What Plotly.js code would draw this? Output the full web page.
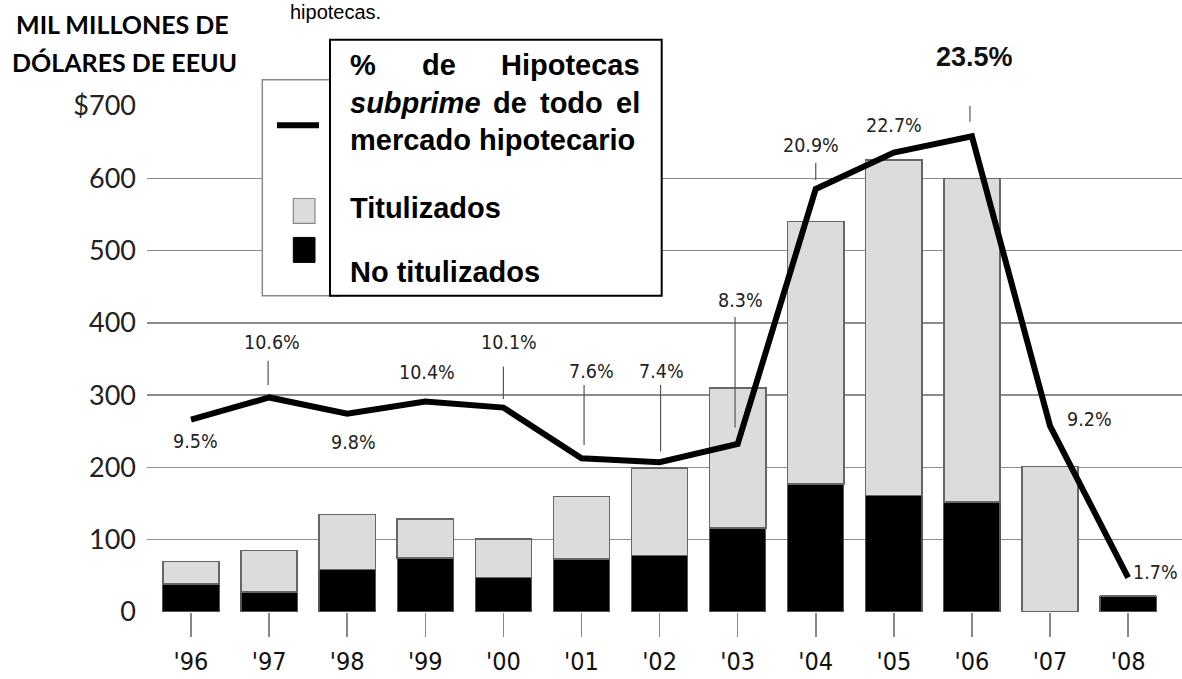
<!DOCTYPE html>
<html>
<head>
<meta charset="utf-8">
<script src="https://cdn.plot.ly/plotly-3.0.1.min.js"></script>
<style>html,body{margin:0;padding:0;background:#fff;}#chart{width:1182px;height:679px;}</style>
</head>
<body>
<div id="chart"></div>
<script>
// ---------- DATA ----------
const years = ["'96","'97","'98","'99","'00","'01","'02","'03","'04","'05","'06","'07","'08"];
const noTitulizados = [39, 28, 59, 75, 48, 73, 78, 116, 177, 161, 152, 0, 22];
const titulizados   = [31, 57, 76, 54, 53, 87, 121, 194, 363, 464, 448, 201, 0];
const subprimePct   = [9.5, 10.6, 9.8, 10.4, 10.1, 7.6, 7.4, 8.3, 20.9, 22.7, 23.5, 9.2, 1.7];
const yTickVals  = [0, 100, 200, 300, 400, 500, 600, 700];
const yTickText  = ["0", "100", "200", "300", "400", "500", "600", "$700"];

// ---------- LAYOUT HELPERS (pixel -> paper) ----------
const W = 1182, H = 679, ML = 147, MR = 0, MT = 105.7, MB = 66.7;
const PW = W - ML - MR, PH = H - MT - MB;
const px = x => (x - ML) / PW;
const py = y => (H - MB - y) / PH;

const xIdx = years.map((_, i) => i);
const narrow = "Liberation Sans Narrow, Arial Narrow, DejaVu Sans Condensed, sans-serif";
const arial = "Liberation Sans, Arial, sans-serif";

// label placement (pixel offsets, style only)
const labelShift = [[4,-22],[3,54.5],[6,-29],[1.5,29],[6,64.7],[10,86.6],[1.5,90.7],[3,144],[-5,43],[0,27.4],[3,79.5],[39,6],[27,5]];
const leaderOff = {1:[-1,12.5,36.8],4:[0,8.7,41],5:[2.6,13.3,73.3],6:[1,10.7,77.4],7:[-2.6,16.4,127],8:[0,9,26],10:[-2,14.5,53]};

const traces = [
  {type:'bar', x:xIdx, y:noTitulizados, name:'No titulizados', width:0.72,
   marker:{color:'#000', line:{color:'#555', width:1.2}}, hoverinfo:'skip'},
  {type:'bar', x:xIdx, y:titulizados, name:'Titulizados', width:0.72,
   marker:{color:'#dcdcdc', line:{color:'#666', width:1.5}}, hoverinfo:'skip'},
  {type:'scatter', mode:'lines', x:xIdx, y:subprimePct, yaxis:'y2', name:'% subprime',
   line:{color:'#000', width:6}, hoverinfo:'skip'}
];

const annotations = [];
const shapes = [];

subprimePct.forEach((v, i) => {
  const s = labelShift[i];
  const bold = i === 10;
  annotations.push({x:xIdx[i], y:v, xref:'x', yref:'y2', text: v.toFixed(1) + '%', showarrow:false,
    xshift:s[0], yshift:s[1], xanchor:'center', yanchor:'middle',
    font: bold ? {family:arial, size:27, color:'#111', weight:'bold'} : {family:narrow, size:19.5, color:'#222'}});
  if (leaderOff[i]) {
    const l = leaderOff[i];
    shapes.push({type:'line', xref:'x', yref:'y2', xsizemode:'pixel', ysizemode:'pixel',
      xanchor:xIdx[i], yanchor:v, x0:l[0], x1:l[0], y0:l[1], y1:l[2],
      line:{color:'#555', width:1.2}, layer:'above'});
  }
});

// legend remnants (original legend, mostly covered)
shapes.push({type:'rect', xref:'paper', yref:'paper', x0:px(262.3), x1:px(340), y0:py(79.3), y1:py(295.7),
  fillcolor:'#fff', line:{color:'#888', width:1.5}, layer:'above'});
shapes.push({type:'line', xref:'paper', yref:'paper', x0:px(277), x1:px(319), y0:py(125), y1:py(125),
  line:{color:'#000', width:6}, layer:'above'});
shapes.push({type:'rect', xref:'paper', yref:'paper', x0:px(293.3), x1:px(315), y0:py(198.3), y1:py(223.3),
  fillcolor:'#dcdcdc', line:{color:'#888', width:1.2}, layer:'above'});
shapes.push({type:'rect', xref:'paper', yref:'paper', x0:px(293.3), x1:px(315), y0:py(237.3), y1:py(262.3),
  fillcolor:'#000', line:{color:'#000', width:1}, layer:'above'});
// white overlay box
shapes.push({type:'rect', xref:'paper', yref:'paper', x0:px(330), x1:px(661.7), y0:py(39.3), y1:py(295.7),
  fillcolor:'#fff', line:{color:'#000', width:2}, layer:'above'});

const boxFont = {family:arial, size:29, color:'#000', weight:'bold'};
function boxText(text, x, y, anchor) {
  annotations.push({xref:'paper', yref:'paper', x:px(x), y:py(y), text:text, showarrow:false,
    xanchor:anchor, yanchor:'middle', font:boxFont, borderpad:0});
}
boxText('%', 349, 65, 'left');
boxText('de', 438.7, 65, 'center');
boxText('Hipotecas', 641, 65, 'right');
boxText('<i>subprime</i>', 349, 103, 'left');
boxText('de', 492.4, 103, 'left');
boxText('todo', 539.1, 103, 'left');
boxText('el', 641, 103, 'right');
boxText('mercado hipotecario', 349, 140, 'left');
boxText('Titulizados', 349, 208, 'left');
boxText('No titulizados', 349, 272, 'left');

// unit title
const unitFont = {family:'Lato, Open Sans, sans-serif', size:25, color:'#000', weight:'bold'};
annotations.push({xref:'paper', yref:'paper', x:px(122), y:py(24), text:'MIL MILLONES DE', showarrow:false,
  xanchor:'center', yanchor:'middle', font:unitFont});
annotations.push({xref:'paper', yref:'paper', x:px(124), y:py(62), text:'DÓLARES DE EEUU', showarrow:false,
  xanchor:'center', yanchor:'middle', font:unitFont});
// text fragment of original title
annotations.push({xref:'paper', yref:'paper', x:px(288), y:py(12), text:'hipotecas.', showarrow:false,
  xanchor:'left', yanchor:'middle', font:{family:arial, size:20, color:'#000'}});

const layout = {
  width:W, height:H,
  margin:{l:ML, r:MR, t:MT, b:MB, pad:0},
  paper_bgcolor:'#fff', plot_bgcolor:'#fff',
  showlegend:false, barmode:'stack', bargap:0.28,
  xaxis:{range:[-0.5635, 12.69], tickmode:'array', tickvals:xIdx, ticktext:years,
    ticks:'outside', ticklen:24, tickwidth:1.5, tickcolor:'#888',
    showgrid:false, zeroline:false, showline:false, ticklabelstandoff:3,
    tickfont:{family:narrow, size:25, color:'#111'}, fixedrange:true},
  yaxis:{range:[0, 700], tickmode:'array', tickvals:yTickVals, ticktext:yTickText,
    showgrid:true, gridcolor:'#8c8c8c', gridwidth:1.5, zeroline:false, showline:false,
    ticks:'', ticklabelstandoff:10, tickfont:{family:'Lato, Open Sans, sans-serif', size:27, color:'#222'},
    fixedrange:true},
  yaxis2:{range:[0, 25], overlaying:'y', side:'right', visible:false, fixedrange:true},
  shapes:shapes,
  annotations:annotations
};

Plotly.newPlot('chart', traces, layout, {displayModeBar:false, staticPlot:true});
</script>
</body>
</html>
